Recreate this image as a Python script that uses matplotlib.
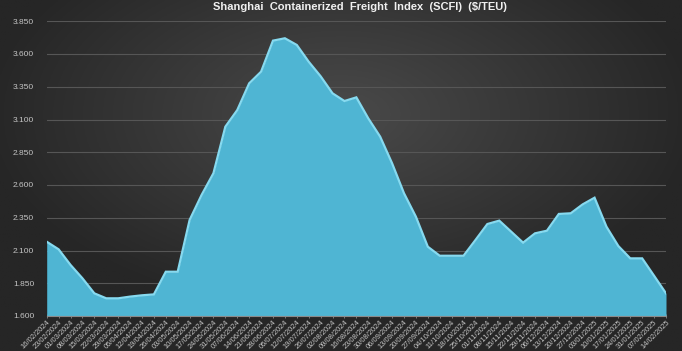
import numpy as np
import matplotlib
matplotlib.use("Agg")
import matplotlib.pyplot as plt

dates = ["16/02/2024", "23/02/2024", "01/03/2024", "08/03/2024", "15/03/2024", "22/03/2024",
         "29/03/2024", "05/04/2024", "12/04/2024", "19/04/2024", "26/04/2024", "03/05/2024",
         "10/05/2024", "17/05/2024", "24/05/2024", "31/05/2024", "07/06/2024", "14/06/2024",
         "21/06/2024", "28/06/2024", "05/07/2024", "12/07/2024", "19/07/2024", "26/07/2024",
         "02/08/2024", "09/08/2024", "16/08/2024", "23/08/2024", "30/08/2024", "06/09/2024",
         "13/09/2024", "20/09/2024", "27/09/2024", "04/10/2024", "11/10/2024", "18/10/2024",
         "25/10/2024", "01/11/2024", "08/11/2024", "15/11/2024", "22/11/2024", "29/11/2024",
         "06/12/2024", "13/12/2024", "20/12/2024", "27/12/2024", "03/01/2025", "10/01/2025",
         "17/01/2025", "24/01/2025", "31/01/2025", "07/02/2025", "14/02/2025"]

scfi = [2167, 2109, 1990, 1888, 1773, 1735, 1735, 1748, 1758, 1765, 1938, 1938,
        2333, 2523, 2690, 3045, 3172, 3376, 3465, 3702, 3720, 3669, 3541, 3430,
        3300, 3241, 3269, 3109, 2969, 2766, 2537, 2358, 2129, 2060, 2060, 2060,
        2180, 2302, 2328, 2244, 2160, 2231, 2251, 2379, 2384, 2452, 2503, 2282,
        2134, 2040, 2040, 1907, 1773]

yticks = [1600, 1850, 2100, 2350, 2600, 2850, 3100, 3350, 3600, 3850]
ytick_labels = ["1.600", "1.850", "2.100", "2.350", "2.600", "2.850", "3.100", "3.350", "3.600", "3.850"]
title = "Shanghai  Containerized  Freight  Index  (SCFI)  ($/TEU)"

W, H = 682, 351
fig = plt.figure(figsize=(W / 100, H / 100), dpi=100)

# radial gradient background
bg = fig.add_axes([0, 0, 1, 1], zorder=-10)
gx, gy = np.meshgrid(np.linspace(-1, 1, 400), np.linspace(-1, 1, 200))
r = np.sqrt((gx / 1.05) ** 2 + ((gy + 0.35) / 1.15) ** 2)
r = np.clip(r, 0, 1)
c_in = np.array([0x4a, 0x4a, 0x4a]) / 255
c_out = np.array([0x26, 0x26, 0x26]) / 255
img = c_in[None, None, :] * (1 - r[..., None]) + c_out[None, None, :] * r[..., None]
bg.imshow(img, aspect="auto", extent=[0, 1, 0, 1], origin="upper")
bg.set_axis_off()

left = 46.7 / W
right = 666 / W
bottom = (H - 316) / H
top = (H - 21.25) / H
ax = fig.add_axes([left, bottom, right - left, top - bottom])
ax.set_facecolor("none")

x = np.arange(len(scfi))
ax.fill_between(x, scfi, 1600, color="#4fb5d3", lw=0, zorder=3)
ax.plot(x, scfi, color="#86daf0", lw=1.6, zorder=4, solid_joinstyle="miter")

ax.set_xlim(0, len(scfi) - 1)
ax.set_ylim(1600, 3850)
ax.set_yticks(yticks)
ax.set_yticklabels(ytick_labels)
ax.set_xticks(x)
ax.set_xticklabels(dates, rotation=45, ha="right", rotation_mode="anchor")

for yt in yticks[1:]:
    ax.axhline(yt, color="#565656", lw=0.8, zorder=1)

for s in ["left", "right", "top"]:
    ax.spines[s].set_visible(False)
ax.spines["bottom"].set_color("#8a8a8a")
ax.spines["bottom"].set_linewidth(0.8)
ax.spines["bottom"].set_zorder(5)

ax.tick_params(axis="y", length=0, pad=9, labelsize=6, labelcolor="#c4c4c4")
ax.tick_params(axis="x", length=2.5, direction="inout", color="#8a8a8a", width=0.6,
               pad=1, labelsize=5.4, labelcolor="#c4c4c4")
for lab in ax.get_xticklabels() + ax.get_yticklabels():
    lab.set_fontfamily("Liberation Sans")

fig.text((46.7 + 666) / 2 / W + 0.005, 1 - 10 / H, title, ha="center", va="baseline",
         fontsize=8, fontweight="bold", color="#f0f0f0", family="Liberation Sans")

fig.savefig("out.png", dpi=100)
